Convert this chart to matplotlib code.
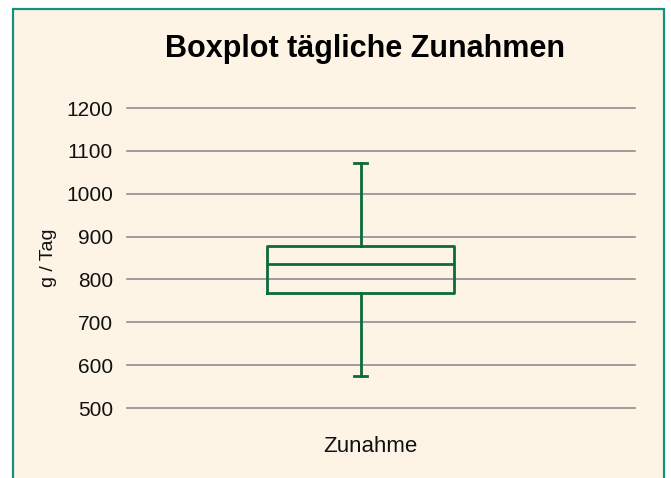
import matplotlib.pyplot as plt
from matplotlib.patches import Rectangle

# values (g / Tag)
category = "Zunahme"
whisker_low = 574
q1 = 769
median = 835
q3 = 879
whisker_high = 1072
yticks = [500, 600, 700, 800, 900, 1000, 1100, 1200]

green = "#0b6b3a"
teal = "#13917f"
cream = "#fdf4e6"

plt.rcParams['font.family'] = ['Liberation Sans', 'DejaVu Sans']

fig = plt.figure(figsize=(6.71, 4.78), dpi=100)
fig.patch.set_facecolor("white")

# cream panel with teal frame
W, H = 671, 478
panel = Rectangle((12.5 / W, -0.05), (664 - 12.5) / W, 1 - 8.5 / H + 0.05,
                  transform=fig.transFigure, facecolor=cream, edgecolor=teal,
                  linewidth=1.6, zorder=-10)
fig.patches.append(panel)

ax = fig.add_axes([127 / W, 1 - 408 / H, (635 - 127) / W, 300 / H])
ax.set_facecolor("none")
ax.set_zorder(5)

stats = [dict(med=median, q1=q1, q3=q3, whislo=whisker_low, whishi=whisker_high,
              label=category, fliers=[])]
lp = dict(color=green, linewidth=2.0)
ax.bxp(stats, positions=[1], widths=0.5, capwidths=0.035, showfliers=False,
       boxprops=lp, whiskerprops=lp, capprops=lp, medianprops=lp,
       manage_ticks=False, zorder=3)

ax.set_xlim(1 - 0.46 * 1.355, 1 + 0.54 * 1.355)
ax.set_ylim(500, 1200)
ax.set_yticks(yticks)
ax.set_yticklabels([str(v) for v in yticks], fontsize=15)
ax.set_xticks([])
ax.yaxis.grid(True, color="#8f8f8f", linewidth=1.2, zorder=1)
for gl in ax.yaxis.get_gridlines():
    gl.set_clip_on(False)
ax.set_axisbelow(True)
for s in ax.spines.values():
    s.set_visible(False)
ax.tick_params(axis="y", length=0, pad=10, colors="#111111")

ax.set_ylabel("g / Tag", fontsize=14, color="#111111")
ax.yaxis.set_label_coords(-0.137, 0.5)

fig.text(370 / W, 1 - 447 / H, category, ha="center", va="center", fontsize=16,
         color="#111111")
fig.text(365 / W, 1 - 57 / H, "Boxplot tägliche Zunahmen", ha="center",
         va="baseline", fontsize=22, fontweight="bold", color="black")

fig.savefig("out.png", dpi=100, facecolor=fig.get_facecolor())
